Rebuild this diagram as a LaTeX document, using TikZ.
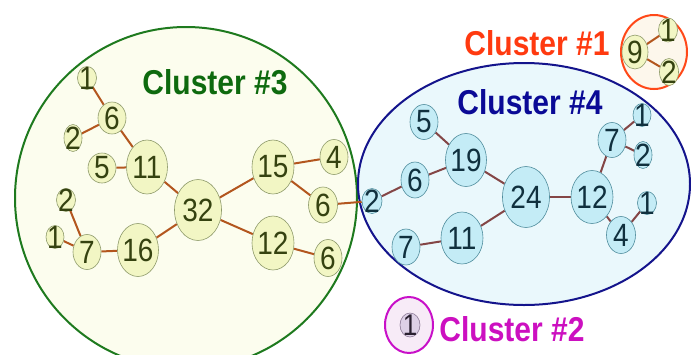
\documentclass[tikz,border=0pt]{standalone}
\usepackage{fontspec}
\setmainfont{Liberation Sans}
\usetikzlibrary{shapes.geometric}
\definecolor{yfill}{HTML}{F2F6C4}
\definecolor{ybord}{HTML}{8E9A6A}
\definecolor{ytext}{HTML}{354210}
\definecolor{cfill}{HTML}{C4ECF6}
\definecolor{cbord}{HTML}{4F8C9C}
\definecolor{ctext}{HTML}{10303E}
\definecolor{pfill}{HTML}{DDD0E6}
\definecolor{pbord}{HTML}{8C7A96}
\definecolor{ptext}{HTML}{2A2030}
\definecolor{g3fill}{HTML}{FCFDEE}
\definecolor{g3bord}{HTML}{1E7A1E}
\definecolor{b4fill}{HTML}{EAF8FC}
\definecolor{b4bord}{HTML}{14148C}
\definecolor{o1fill}{HTML}{FDF7EC}
\definecolor{o1bord}{HTML}{FF4818}
\definecolor{m2fill}{HTML}{F7EBF7}
\definecolor{m2bord}{HTML}{C810C8}
\definecolor{ledge}{HTML}{B3561E}
\definecolor{bedge}{HTML}{844646}
\definecolor{l3}{HTML}{0E6A0E}
\definecolor{l4}{HTML}{0A0A96}
\definecolor{l1}{HTML}{FF3A10}
\definecolor{l2}{HTML}{CC10C0}
\pgfdeclarelayer{bg}
\pgfdeclarelayer{edges}
\pgfsetlayers{bg,edges,main}
\newcommand\vnode[6]{\node[#1, minimum width=#4pt, minimum height=#5pt, label={[#1txt]center:\scalebox{1}[1.15]{#6}}] (#2) at (#3) {};}
\begin{document}
\begin{tikzpicture}[x=1pt,y=-1pt,
  ynode/.style={ellipse, draw=ybord, fill=yfill, line width=0.6pt, inner sep=0pt},
  ynodetxt/.style={text=ytext, font=\fontsize{28}{28}\selectfont, inner sep=0pt},
  cnode/.style={ellipse, draw=cbord, fill=cfill, line width=0.6pt, inner sep=0pt},
  cnodetxt/.style={text=ctext, font=\fontsize{28}{28}\selectfont, inner sep=0pt},
  pnode/.style={ellipse, draw=pbord, fill=pfill, line width=0.6pt, inner sep=0pt},
  pnodetxt/.style={text=ptext, font=\fontsize{26}{26}\selectfont, inner sep=0pt},
  cluster/.style={ellipse, line width=2pt, inner sep=0pt},
  lbl/.style={font=\fontsize{30}{30}\selectfont\bfseries, inner sep=0pt},
  yedge/.style={draw=ledge, line width=2pt},
  bedgest/.style={draw=bedge, line width=2pt}
]
\useasboundingbox (0,0) rectangle (691,354);
\clip (0,0) rectangle (691,354);
% clusters
\begin{pgfonlayer}{bg}
\node[cluster, draw=g3bord, fill=g3fill, minimum width=342pt, minimum height=342pt] (c3) at (186,198) {};
\node[cluster, draw=b4bord, fill=b4fill, minimum width=332pt, minimum height=242pt] (c4) at (524,184) {};
\node[cluster, draw=o1bord, fill=o1fill, minimum width=66pt, minimum height=74pt] (c1) at (654,52) {};
\node[cluster, draw=m2bord, fill=m2fill, minimum width=48pt, minimum height=56pt] (c2) at (409,325) {};
\end{pgfonlayer}
% labels
\node[lbl, text=l3] (t3) at (215,82) {\scalebox{1}[1.15]{Cluster \#3}};
\node[lbl, text=l4] (t4) at (530,102) {\scalebox{1}[1.15]{Cluster \#4}};
\node[lbl, text=l1] (t1) at (537,43) {\scalebox{1}[1.15]{Cluster \#1}};
\node[lbl, text=l2] (t2) at (512,329) {\scalebox{1}[1.15]{Cluster \#2}};
% cluster 3 nodes
\vnode{ynode}{a1}{87,78}{19}{23}{1}
\vnode{ynode}{a6}{112,118}{28}{32}{6}
\vnode{ynode}{a2}{73,138}{18}{27}{2}
\vnode{ynode}{a5}{102,168}{28}{30}{5}
\vnode{ynode}{a11}{147,167}{41}{54}{11}
\vnode{ynode}{b2}{66,200}{19}{23}{2}
\vnode{ynode}{b1}{55,237}{18}{23}{1}
\vnode{ynode}{b7}{87,252}{28}{35}{7}
\vnode{ynode}{b16}{138,250}{41}{53}{16}
\vnode{ynode}{a32}{198,210}{47}{61}{32}
\vnode{ynode}{a15}{273,167}{42}{54}{15}
\vnode{ynode}{a4}{334,157}{28}{35}{4}
\vnode{ynode}{c6}{323,205}{29}{36}{6}
\vnode{ynode}{a12}{273,243}{42}{54}{12}
\vnode{ynode}{d6}{328,258}{28}{37}{6}
% cluster 4 nodes
\vnode{cnode}{e5}{424,122}{28}{35}{5}
\vnode{cnode}{e19}{466,160}{41}{53}{19}
\vnode{cnode}{e6}{415,180}{28}{36}{6}
\vnode{cnode}{e2}{372,201}{20}{25}{2}
\vnode{cnode}{e24}{526,197}{47}{61}{24}
\vnode{cnode}{e11}{462,238}{42}{52}{11}
\vnode{cnode}{e7}{406,247}{28}{36}{7}
\vnode{cnode}{e12}{592,197}{42}{53}{12}
\vnode{cnode}{f7}{612,140}{28}{35}{7}
\vnode{cnode}{f1}{642,115}{18}{23}{1}
\vnode{cnode}{f2}{643,155}{18}{27}{2}
\vnode{cnode}{g1}{647,203}{19}{23}{1}
\vnode{cnode}{g4}{621,235}{29}{37}{4}
% cluster 1 nodes
\vnode{ynode}{h9}{635,52}{26}{34}{9}
\vnode{ynode}{h1}{668,30}{19}{24}{1}
\vnode{ynode}{h2}{669,72}{19}{27}{2}
% cluster 2 node
\vnode{pnode}{p1}{410,325}{20}{24}{1}
% edges
\begin{pgfonlayer}{edges}
\draw[yedge] (a1) -- (a6);
\draw[yedge] (a2) -- (a6);
\draw[yedge] (a6) -- (a11);
\draw[yedge] (a5) -- (a11);
\draw[yedge] (a11) -- (a32);
\draw[yedge] (b2) -- (b7);
\draw[yedge] (b1) -- (b7);
\draw[yedge] (b7) -- (b16);
\draw[yedge] (b16) -- (a32);
\draw[yedge] (a32) -- (a15);
\draw[yedge] (a15) -- (a4);
\draw[yedge] (a15) -- (c6);
\draw[yedge] (a32) -- (a12);
\draw[yedge] (a12) -- (d6);
\draw[yedge] (c6) -- (e2);
\draw[bedgest] (e5) -- (e19);
\draw[bedgest] (e19) -- (e6);
\draw[bedgest] (e6) -- (e2);
\draw[bedgest] (e19) -- (e24);
\draw[bedgest] (e24) -- (e11);
\draw[bedgest] (e11) -- (e7);
\draw[bedgest] (e24) -- (e12);
\draw[bedgest] (e12) -- (f7);
\draw[bedgest] (f7) -- (f1);
\draw[bedgest] (f7) -- (f2);
\draw[bedgest] (e12) -- (g4);
\draw[bedgest] (g4) -- (g1);
\draw[yedge] (h9) -- (h1);
\draw[yedge] (h9) -- (h2);
\end{pgfonlayer}
\end{tikzpicture}
\end{document}
